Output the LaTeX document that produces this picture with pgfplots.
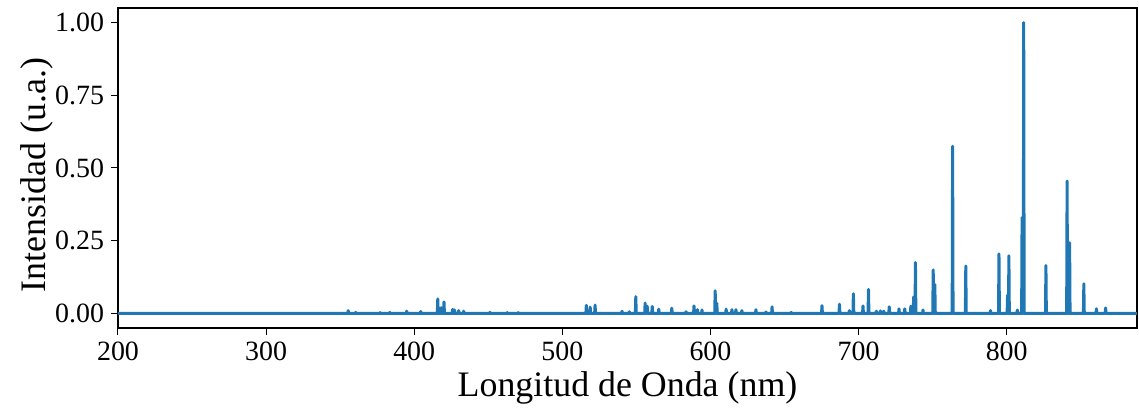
\documentclass[border=0pt]{standalone}
\usepackage{fontspec}
\setmainfont{Liberation Serif}
\usepackage{pgfplots}
\pgfplotsset{compat=1.18}
\definecolor{mplblue}{HTML}{1F77B4}
\begin{document}
\begin{tikzpicture}
% fixed page frame around the axis box
\useasboundingbox (-59bp,-40bp) rectangle (510.5bp,164bp);
\begin{axis}[
  scale only axis,
  width=509.5bp, height=160bp,
  at={(0,0)}, anchor=south west,
  xmin=200, xmax=888, ymin=-0.05, ymax=1.05,
  xtick={200,300,400,500,600,700,800},
  ytick={0,0.25,0.5,0.75,1},
  yticklabel style={/pgf/number format/.cd, fixed, fixed zerofill, precision=2},
  /pgf/number format/assume math mode=true,
  tick align=outside, xtick pos=bottom, ytick pos=left,
  major tick length=3.5bp,
  tick style={black, line width=0.5bp},
  axis line style={black, line width=0.6bp},
  ticklabel style={font=\fontsize{14}{15}\selectfont},
  xlabel={Longitud de Onda (nm)},
  ylabel={Intensidad (u.a.)},
  label style={font=\fontsize{18}{20}\selectfont},
  xlabel style={at={(axis description cs:0.5,-0.2156)}, anchor=base},
  ylabel style={at={(axis description cs:-0.0716,0.478)}, anchor=base, rotate=0},
  clip=true,
]
% argon emission spectrum: narrow lines on a flat baseline
\addplot[mplblue, line width=1.5bp, line join=round] coordinates {
(200,0)
(355.1,0) (355.4,0.010) (355.7,0)
(360.2,0) (360.5,0.004) (360.8,0)
(376.7,0) (377.0,0.003) (377.3,0)
(383.2,0) (383.5,0.004) (383.8,0)
(394.6,0) (394.9,0.008) (395.2,0)
(404.1,0) (404.4,0.007) (404.7,0)
(415.6,0) (415.9,0.050) (416.2,0)
(417.9,0) (418.2,0.020) (418.5,0)
(419.8,0) (420.1,0.040) (420.4,0)
(425.6,0) (425.9,0.014) (426.2,0)
(426.9,0) (427.2,0.012) (427.5,0)
(429.7,0) (430.0,0.010) (430.3,0)
(433.1,0) (433.4,0.008) (433.7,0)
(450.8,0) (451.1,0.004) (451.4,0)
(462.5,0) (462.8,0.003) (463.1,0)
(469.9,0) (470.2,0.003) (470.5,0)
(515.9,0) (516.2,0.028) (516.5,0)
(518.5,0) (518.8,0.022) (519.1,0)
(521.8,0) (522.1,0.029) (522.4,0)
(540.0,0) (540.3,0.008) (540.6,0)
(544.9,0) (545.2,0.006) (545.5,0)
(549.3,0) (549.6,0.058) (549.9,0)
(555.6,0) (555.9,0.036) (556.2,0)
(557.0,0) (557.3,0.025) (557.6,0)
(560.4,0) (560.7,0.024) (561.0,0)
(564.8,0) (565.1,0.015) (565.4,0)
(573.6,0) (573.9,0.018) (574.2,0)
(583.2,0) (583.5,0.006) (583.8,0)
(588.6,0) (588.9,0.026) (589.2,0)
(590.9,0) (591.2,0.013) (591.5,0)
(594.0,0) (594.3,0.012) (594.6,0)
(602.9,0) (603.2,0.078) (603.5,0)
(604.0,0) (604.3,0.035) (604.6,0)
(610.3,0) (610.6,0.015) (610.9,0)
(614.2,0) (614.5,0.013) (614.8,0)
(616.9,0) (617.2,0.013) (617.5,0)
(620.9,0) (621.2,0.010) (621.5,0)
(630.4,0) (630.7,0.013) (631.0,0)
(637.2,0) (637.5,0.005) (637.8,0)
(641.3,0) (641.6,0.023) (641.9,0)
(654.2,0) (654.5,0.004) (654.8,0)
(675.0,0) (675.3,0.027) (675.6,0)
(686.8,0) (687.1,0.032) (687.4,0)
(693.5,0) (693.8,0.010) (694.1,0)
(696.2,0) (696.5,0.068) (696.8,0)
(702.7,0) (703.0,0.026) (703.3,0)
(706.4,0) (706.7,0.083) (707.0,0)
(711.7,0) (712.0,0.008) (712.3,0)
(714.4,0) (714.7,0.009) (715.0,0)
(716.7,0) (717.0,0.008) (717.3,0)
(720.4,0) (720.7,0.023) (721.0,0)
(727.0,0) (727.3,0.016) (727.6,0)
(730.9,0) (731.2,0.016) (731.5,0)
(735.0,0) (735.3,0.025) (735.6,0)
(736.9,0) (737.2,0.057) (737.5,0)
(738.1,0) (738.4,0.175) (738.7,0)
(743.2,0) (743.5,0.012) (743.8,0)
(750.1,0) (750.4,0.150) (750.7,0)
(751.2,0) (751.5,0.100) (751.8,0)
(763.2,0) (763.5,0.575) (763.8,0)
(772.1,0) (772.4,0.163) (772.7,0)
(788.8,0) (789.1,0.010) (789.4,0)
(794.5,0) (794.8,0.205) (795.1,0)
(800.3,0) (800.6,0.063) (800.9,0)
(801.2,0) (801.5,0.198) (801.8,0)
(806.9,0) (807.2,0.012) (807.5,0)
(810.1,0) (810.4,0.330) (810.7,0)
(811.2,0) (811.5,1.000) (811.8,0)
(826.2,0) (826.5,0.165) (826.8,0)
(840.5,0) (840.8,0.455) (841.1,0)
(842.2,0) (842.5,0.243) (842.8,0)
(851.8,0) (852.1,0.102) (852.4,0)
(860.3,0) (860.6,0.016) (860.9,0)
(866.5,0) (866.8,0.019) (867.1,0)
(888,0)
};
\end{axis}
\end{tikzpicture}
\end{document}
